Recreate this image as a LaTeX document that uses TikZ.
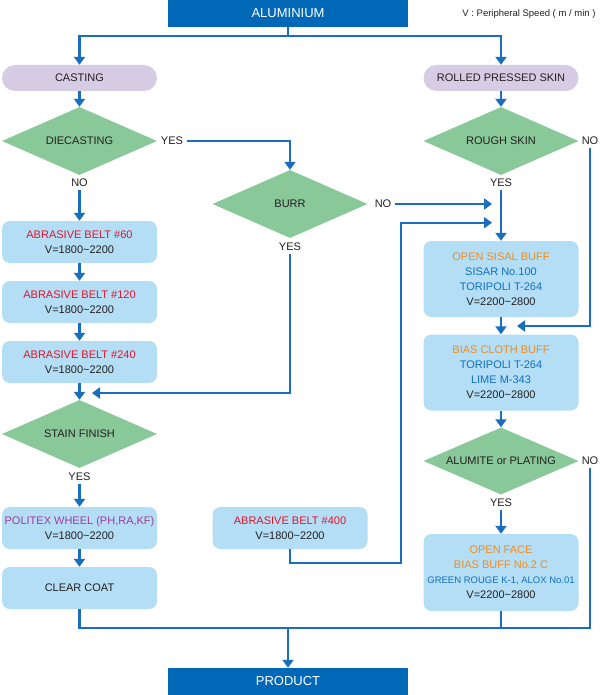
\documentclass[tikz,border=0pt]{standalone}
\usepackage{fontspec}
\setmainfont{Liberation Sans}
\usetikzlibrary{shapes.geometric,arrows.meta}

\definecolor{darkblue}{HTML}{0068B7}
\definecolor{lineblue}{HTML}{1B6DBE}
\definecolor{boxblue}{HTML}{B3DEF6}
\definecolor{pillviolet}{HTML}{D6CCE3}
\definecolor{diagreen}{HTML}{89C899}
\definecolor{txtred}{HTML}{E4122C}
\definecolor{txtorange}{HTML}{F28C1C}
\definecolor{txtblue}{HTML}{1170BF}
\definecolor{txtviolet}{HTML}{A43A95}
\definecolor{txtblack}{HTML}{231F20}

\newcommand{\tld}{\textasciitilde}

\tikzset{
  endbox/.style={rectangle,fill=darkblue,text=white,minimum width=240pt,minimum height=27pt,inner sep=0pt,font=\fontsize{13}{15}\selectfont},
  pill/.style={rectangle,rounded corners=13pt,fill=pillviolet,minimum width=155pt,minimum height=26pt,inner sep=0pt},
  ask/.style={diamond,aspect=2.3,fill=diagreen,minimum width=155pt,minimum height=68pt,inner sep=0pt},
  work/.style={rectangle,rounded corners=8pt,fill=boxblue,minimum width=155pt,align=center,inner sep=0pt},
  link/.style={draw=lineblue,line width=2.2pt},
  arr/.style={link,-{Triangle[width=11pt,length=8pt]}}
}

\begin{document}
\begin{tikzpicture}[x=1pt,y=-1pt,font=\fontsize{11}{15}\selectfont,text=txtblack]
\useasboundingbox (0,0) rectangle (599,695);

% start and end
\node[endbox] (alu) at (288,13.5) {ALUMINIUM};
\node[anchor=east,font=\fontsize{9.5}{11}\selectfont] (legend) at (599,14) {V : Peripheral Speed ( m / min )};
\node[endbox] (product) at (288,681.5) {PRODUCT};

% left column
\node[pill] (cast) at (79.5,78) {CASTING};
\node[ask] (diecast) at (79.5,141) {DIECASTING};
\node[work,minimum height=42pt] (ab60) at (79.5,242) {\textcolor{txtred}{ABRASIVE BELT \#60}\\V=1800\tld2200};
\node[work,minimum height=42pt] (ab120) at (79.5,302) {\textcolor{txtred}{ABRASIVE BELT \#120}\\V=1800\tld2200};
\node[work,minimum height=42pt] (ab240) at (79.5,362) {\textcolor{txtred}{ABRASIVE BELT \#240}\\V=1800\tld2200};
\node[ask] (stain) at (79.5,434) {STAIN FINISH};
\node[work,minimum height=42pt] (politex) at (79.5,528) {\textcolor{txtviolet}{POLITEX WHEEL (PH,RA,KF)}\\V=1800\tld2200};
\node[work,minimum height=42pt] (clear) at (79.5,588) {CLEAR COAT};

% middle column
\node[ask] (burr) at (290,204) {BURR};
\node[work,minimum height=42pt] (ab400) at (290,528) {\textcolor{txtred}{ABRASIVE BELT \#400}\\V=1800\tld2200};

% right column
\node[pill] (rolled) at (501,78) {ROLLED PRESSED SKIN};
\node[ask] (rough) at (501,141) {ROUGH SKIN};
\node[work,minimum height=76pt] (sisal) at (501,279) {\textcolor{txtorange}{OPEN SISAL BUFF}\\\textcolor{txtblue}{SISAR No.100}\\\textcolor{txtblue}{TORIPOLI T-264}\\V=2200\tld2800};
\node[work,minimum height=76pt] (bias) at (501,372.5) {\textcolor{txtorange}{BIAS CLOTH BUFF}\\\textcolor{txtblue}{TORIPOLI T-264}\\\textcolor{txtblue}{LIME M-343}\\V=2200\tld2800};
\node[ask,minimum height=67pt] (alumite) at (501,461) {ALUMITE or PLATING};
\node[work,minimum height=77pt] (openface) at (501,572.5) {\textcolor{txtorange}{OPEN FACE}\\\textcolor{txtorange}{BIAS BUFF No.2 C}\\\textcolor{txtblue}{\fontsize{9.5}{15}\selectfont GREEN ROUGE K-1, ALOX No.01}\\V=2200\tld2800};

% yes / no labels
\node (yes1) at (172,141) {YES};
\node (no1) at (79.5,183) {NO};
\node (no2) at (383,204) {NO};
\node (yes2) at (290,247) {YES};
\node (yes3) at (501,183) {YES};
\node (no3) at (590,141) {NO};
\node (yes4) at (79.5,477) {YES};
\node (yes5) at (501,503) {YES};
\node (no4) at (590,461) {NO};

\coordinate (split) at (288,36);
\coordinate (stainin) at (92,393);
\coordinate (burrin) at (492,204);
\coordinate (loopa) at (401,563);
\coordinate (loopb) at (492,222.7);
\coordinate (nojoin) at (517,326);
\coordinate (bus) at (288,628);

% connectors
\draw[link] (alu) -- (split);
\draw[arr] (split) -| (cast);
\draw[arr] (split) -| (rolled);

\draw[arr] (cast) -- (diecast);
\draw[arr] (yes1.east) -| (burr.north);
\draw[arr] (no1) -- (ab60);
\draw[arr] (ab60) -- (ab120);
\draw[arr] (ab120) -- (ab240);
\draw[arr] (ab240) -- (stain);
\draw[arr] (yes2.south) |- (stainin);
\draw[arr] (yes4) -- (politex);
\draw[arr] (politex) -- (clear);

\draw[arr] (no2.east) -- (burrin);
\draw[arr] (ab400.south) |- (loopa) |- (loopb);

\draw[arr] (rolled) -- (rough);
\draw[arr] (yes3) -- (sisal);
\draw[arr] (no3.south) |- (nojoin);
\draw[arr] (sisal) -- (bias);
\draw[arr] (bias) -- (alumite);
\draw[arr] (yes5) -- (openface);

\draw[link] (clear.south) |- (bus) -| (no4.south);
\draw[link] (openface.south) -- (openface.south |- bus);
\draw[arr] (bus) -- (product);
\end{tikzpicture}
\end{document}
